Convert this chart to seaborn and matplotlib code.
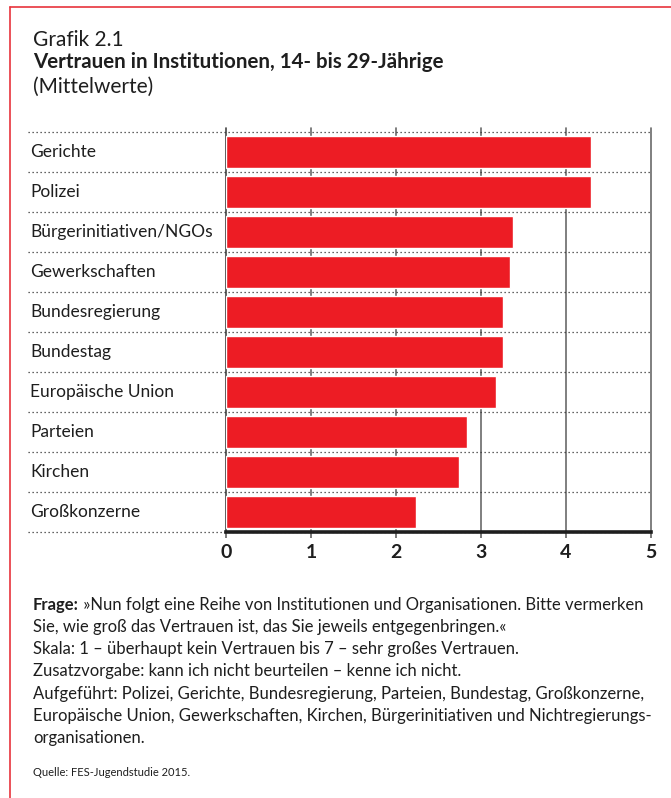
import matplotlib
matplotlib.use("Agg")
import matplotlib.pyplot as plt
import matplotlib.transforms as mtransforms
from matplotlib.lines import Line2D
from matplotlib import font_manager
import numpy as np
import pandas as pd
import seaborn as sns

# data
institutions = [
    "Gerichte", "Polizei", "Bürgerinitiativen/NGOs", "Gewerkschaften",
    "Bundesregierung", "Bundestag", "Europäische Union", "Parteien",
    "Kirchen", "Großkonzerne",
]
means = [4.29, 4.29, 3.38, 3.34, 3.26, 3.26, 3.18, 2.84, 2.74, 2.23]
xticks = [0, 1, 2, 3, 4, 5]

footnote_lines = [
    "Sie, wie groß das Vertrauen ist, das Sie jeweils entgegenbringen.«",
    "Skala: 1 – überhaupt kein Vertrauen bis 7 – sehr großes Vertrauen.",
    "Zusatzvorgabe: kann ich nicht beurteilen – kenne ich nicht.",
    "Aufgeführt: Polizei, Gerichte, Bundesregierung, Parteien, Bundestag, Großkonzerne,",
    "Europäische Union, Gewerkschaften, Kirchen, Bürgerinitiativen und Nichtregierungs-",
    "organisationen.",
]

sns.set_theme(style="white")
available = {f.name for f in font_manager.fontManager.ttflist}
plt.rcParams["font.family"] = [f for f in ["Liberation Sans Narrow", "Lato", "DejaVu Sans"] if f in available]

TEXT = "#1e1e1e"
RED = "#ed1c24"

W, H = 671, 798
fig = plt.figure(figsize=(W / 100, H / 100), dpi=100)
ax = fig.add_axes([226 / W, 1 - 532 / H, 425 / W, 400 / H])

df = pd.DataFrame({"institution": institutions, "mean": means})
sns.barplot(data=df, x="mean", y="institution", color=RED, saturation=1,
            width=0.78, ax=ax, zorder=2)

n = len(institutions)
ax.set_xlim(0, 5)
ax.set_ylim(n - 0.5, -0.5)
ax.set_xlabel("")
ax.set_ylabel("")
ax.set_yticks([])

# vertical grid
for x in xticks:
    ax.axvline(x, ymin=0, ymax=1.01, color="#444444" if x == 0 else "#6a6a6a",
               lw=1.2, zorder=1, clip_on=False)

# dotted row separators reaching into the label column
for b in np.arange(-0.5, n, 1.0):
    ax.axhline(b, xmin=-0.466, xmax=1, ls=(0, (1, 2.2)), color="#333333",
               lw=0.9, zorder=3, clip_on=False)

for s in ["top", "left", "right"]:
    ax.spines[s].set_visible(False)
ax.spines["bottom"].set_linewidth(2.6)
ax.spines["bottom"].set_color(TEXT)
ax.spines["bottom"].set_zorder(4)

ax.set_xticks(xticks, labels=[str(t) for t in xticks], fontweight="bold")
ax.tick_params(axis="x", bottom=True, length=4, width=1.1, color="#555555",
               pad=5, labelsize=14, labelcolor=TEXT)

trans = mtransforms.blended_transform_factory(ax.transAxes, ax.transData)
for i, name in enumerate(institutions):
    ax.text(-0.461, i, name, transform=trans, ha="left", va="center",
            fontsize=12.5, color=TEXT)

# header
x0 = 33 / W
fig.text(x0, 1 - 40 / H, "Grafik 2.1", fontsize=15, color=TEXT, va="center")
fig.text(x0, 1 - 62 / H, "Vertrauen in Institutionen, 14- bis 29-Jährige",
         fontsize=14.8, fontweight="bold", color=TEXT, va="center")
fig.text(x0, 1 - 87 / H, "(Mittelwerte)", fontsize=15, color=TEXT, va="center")

# footnote
frage = fig.text(x0, 1 - 605 / H, "Frage:", fontsize=12, fontweight="bold",
                 color=TEXT, va="center")
ax.annotate(" »Nun folgt eine Reihe von Institutionen und Organisationen. Bitte vermerken",
            xy=(1, 0), xycoords=frage, ha="left", va="bottom", fontsize=12,
            color=TEXT, annotation_clip=False)
for k, line in enumerate(footnote_lines):
    fig.text(x0, 1 - (627 + 22.2 * k) / H, line, fontsize=12, color=TEXT, va="center")

fig.text(x0, 1 - 773 / H, "Quelle: FES-Jugendstudie 2015.", fontsize=8,
         color=TEXT, va="center")

# red frame
fig.add_artist(Line2D([10 / W, 10 / W], [0, 1 - 7 / H], color="#e8343c", lw=1.2,
                      transform=fig.transFigure))
fig.add_artist(Line2D([10 / W, 1], [1 - 7 / H, 1 - 7 / H], color="#e8343c", lw=1.2,
                      transform=fig.transFigure))

fig.savefig("out.png", dpi=100, facecolor="white")
